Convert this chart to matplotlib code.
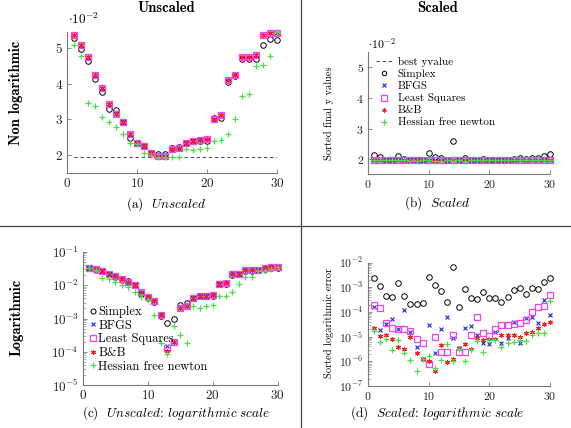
import numpy as np
import matplotlib.pyplot as plt
from matplotlib.lines import Line2D
from matplotlib.ticker import LogLocator, NullFormatter

plt.rcParams['font.family'] = 'cmr10'
plt.rcParams['mathtext.fontset'] = 'cm'
plt.rcParams['axes.formatter.use_mathtext'] = True

W, H = 571, 428

#################################################################
# data
#################################################################

runs = list(range(1, 31))
best_y = 1.95  # x 10^-2

# (a) unscaled final y values, x 10^-2
a_simplex = [5.26, 4.96, 4.63, 4.12, 3.77, 3.29, 3.26, 2.93, 2.48, 2.34,
             2.25, 2.07, 2.02, 2.04, 2.19, 2.23, 2.34, 2.40, 2.40, 2.40,
             3.04, 3.04, 4.04, 4.21, 4.68, 4.68, 4.69, 5.09, 5.24, 5.21]
a_bfgs = [5.37, 5.07, 4.73, 4.23, 3.88, 3.44, 3.15, 2.93, 2.58, 2.34,
          2.26, 2.07, 1.98, 1.98, 2.17, 2.20, 2.34, 2.40, 2.42, 2.44,
          3.00, 3.12, 4.11, 4.25, 4.75, 4.75, 4.81, 5.35, 5.40, 5.42]
a_lsq = [5.37, 5.07, 4.73, 4.23, 3.88, 3.44, 3.15, 2.93, 2.58, 2.34,
         2.26, 2.07, 1.97, 1.98, 2.17, 2.20, 2.34, 2.40, 2.42, 2.44,
         3.00, 3.12, 4.11, 4.25, 4.75, 4.75, 4.81, 5.35, 5.40, 5.42]
a_bb = [5.37, 5.07, 4.73, 4.23, 3.88, 3.44, 3.15, 2.93, 2.58, 2.34,
        2.26, 2.07, 1.97, 1.98, 2.17, 2.20, 2.34, 2.40, 2.42, 2.44,
        3.00, 3.12, 4.11, 4.25, 4.75, 4.75, 4.81, 5.35, 5.40, 5.42]
a_hfn = [5.09, 4.78, 3.46, 3.37, 3.06, 2.93, 2.79, 2.58, 2.34, 2.31,
         2.06, 1.99, 1.95, 1.95, 1.95, 1.95, 2.17, 2.14, 2.18, 2.20,
         2.40, 2.42, 2.58, 3.02, 3.65, 3.70, 4.50, 4.52, 4.77, 5.43]

# (b) scaled, sorted final y values, x 10^-2
b_simplex = [2.14, 2.07, 1.98, 1.98, 2.09, 2.00, 1.98, 1.98, 1.98, 2.20,
             2.07, 2.04, 1.98, 2.61, 1.96, 2.04, 1.99, 1.99, 2.02, 1.99,
             1.99, 1.98, 1.99, 2.02, 2.04, 2.01, 2.04, 2.04, 2.09, 2.16]
b_bfgs = [1.96, 1.96, 1.96, 1.96, 1.96, 1.96, 1.96, 1.96, 1.96, 1.96,
          1.96, 1.96, 1.96, 1.96, 1.96, 1.96, 1.96, 1.96, 1.96, 1.96,
          1.96, 1.96, 1.96, 1.96, 1.96, 1.96, 1.96, 1.96, 1.97, 1.96]
b_lsq = [1.97, 1.97, 1.96, 1.96, 1.96, 1.96, 1.96, 1.96, 1.96, 1.96,
         1.96, 1.96, 1.96, 1.96, 1.96, 1.96, 1.96, 1.96, 1.96, 1.96,
         1.96, 1.96, 1.96, 1.96, 1.96, 1.96, 1.96, 1.97, 1.97, 1.97]
b_bb = [1.96, 1.96, 1.96, 1.96, 1.96, 1.96, 1.96, 1.96, 1.96, 1.96,
        1.95, 1.96, 1.96, 1.96, 1.96, 1.96, 1.96, 1.96, 1.96, 1.96,
        1.96, 1.96, 1.96, 1.96, 1.96, 1.96, 1.96, 1.96, 1.96, 1.96]
b_hfn = [1.96, 1.96, 1.96, 1.96, 1.96, 1.96, 1.95, 1.95, 1.96, 1.96,
         1.95, 1.95, 1.96, 1.95, 1.96, 1.95, 1.96, 1.96, 1.96, 1.96,
         1.96, 1.96, 1.96, 1.96, 1.96, 1.96, 1.96, 1.96, 1.96, 1.96]

# (c) unscaled, logarithmic error
c_simplex = [3.2e-2, 2.9e-2, 2.6e-2, 2.1e-2, 1.8e-2, 1.4e-2, 1.35e-2, 1.0e-2, 5.6e-3, 4.2e-3,
             3.2e-3, 1.2e-3, 7.2e-4, 9.5e-4, 2.5e-3, 2.9e-3, 4.2e-3, 4.6e-3, 4.6e-3, 4.6e-3,
             1.1e-2, 1.1e-2, 2.0e-2, 2.2e-2, 2.7e-2, 2.7e-2, 2.75e-2, 3.1e-2, 3.3e-2, 3.25e-2]
c_bfgs = [3.3e-2, 3.0e-2, 2.6e-2, 2.2e-2, 1.9e-2, 1.5e-2, 1.26e-2, 1.0e-2, 6.3e-3, 4.5e-3,
          3.3e-3, 1.26e-3, 1.5e-4, 2.0e-4, 2.1e-3, 2.4e-3, 4.2e-3, 4.8e-3, 4.8e-3, 5.0e-3,
          1.05e-2, 1.18e-2, 2.1e-2, 2.2e-2, 2.8e-2, 2.8e-2, 2.9e-2, 3.3e-2, 3.4e-2, 3.4e-2]
c_lsq = [3.3e-2, 3.0e-2, 2.6e-2, 2.2e-2, 1.9e-2, 1.5e-2, 1.26e-2, 1.0e-2, 6.3e-3, 4.5e-3,
         3.3e-3, 1.26e-3, 1.35e-4, 2.0e-4, 2.1e-3, 2.4e-3, 4.2e-3, 4.8e-3, 4.8e-3, 5.0e-3,
         1.05e-2, 1.18e-2, 2.1e-2, 2.2e-2, 2.8e-2, 2.8e-2, 2.9e-2, 3.3e-2, 3.4e-2, 3.4e-2]
c_bb = [3.3e-2, 3.0e-2, 2.6e-2, 2.2e-2, 1.9e-2, 1.5e-2, 1.26e-2, 1.0e-2, 6.3e-3, 4.5e-3,
        3.3e-3, 1.26e-3, 1.1e-4, 2.0e-4, 2.1e-3, 2.4e-3, 4.2e-3, 4.8e-3, 4.8e-3, 5.0e-3,
        1.05e-2, 1.18e-2, 2.1e-2, 2.2e-2, 2.8e-2, 2.8e-2, 2.9e-2, 3.3e-2, 3.4e-2, 3.4e-2]
c_hfn = [3.2e-2, 2.8e-2, 1.6e-2, 1.5e-2, 1.2e-2, 1.0e-2, 8.8e-3, 6.3e-3, 4.5e-3, 3.6e-3,
         1.26e-3, 1.9e-4, 8.5e-5, 6.0e-4, 3.2e-4, 1.9e-4, 2.4e-3, 2.0e-3, 2.35e-3, 2.6e-3,
         4.7e-3, 4.8e-3, 6.3e-3, 1.05e-2, 1.7e-2, 1.7e-2, 2.7e-2, 2.7e-2, 3.0e-2, 3.4e-2]

# (d) scaled, sorted logarithmic error
d_simplex = [2.3e-3, 1.1e-3, 4.4e-4, 3.9e-4, 1.45e-3, 4.6e-4, 2.2e-4, 2.1e-4, 2.4e-4, 2.7e-3,
             1.2e-3, 7.3e-4, 2.6e-4, 7.0e-3, 1.65e-4, 8.6e-4, 3.8e-4, 3.4e-4, 6.3e-4, 3.8e-4,
             3.6e-4, 2.6e-4, 3.9e-4, 7.8e-4, 9.8e-4, 5.2e-4, 9.8e-4, 8.6e-4, 1.6e-3, 2.5e-3]
d_bfgs = [1.55e-4, 1.9e-5, 3.2e-5, 5.0e-5, 2.1e-5, 1.2e-4, 1.6e-5, 3.8e-6, 1.2e-6, 2.9e-5,
          2.2e-6, 2.0e-5, 6.4e-5, 9.0e-6, 3.5e-6, 2.2e-5, 2.6e-5, 1.2e-5, 5.7e-6, 4.9e-6,
          1.5e-5, 5.7e-6, 9.0e-6, 4.0e-5, 5.7e-6, 5.9e-5, 6.2e-5, 3.6e-5, 3.1e-4, 7.5e-5]
d_lsq = [1.9e-4, 1.4e-4, 3.7e-5, 2.3e-5, 2.0e-5, 2.0e-5, 1.7e-5, 8.1e-6, 5.4e-6, 7.8e-7,
         9.3e-6, 2.3e-6, 2.3e-6, 1.2e-5, 2.4e-6, 2.5e-6, 1.2e-5, 6.4e-5, 1.4e-5, 1.1e-5,
         2.0e-5, 3.0e-5, 2.9e-5, 3.2e-5, 3.5e-5, 4.6e-5, 9.7e-5, 1.6e-4, 1.8e-4, 4.9e-4]
d_bb = [2.2e-5, 1.1e-5, 1.2e-5, 8.1e-6, 3.9e-6, 3.1e-6, 9.3e-6, 2.2e-6, 1.2e-6, 1.07e-6,
        4.1e-7, 4.6e-6, 9.8e-7, 1.2e-6, 3.6e-6, 4.9e-6, 3.1e-6, 9.1e-6, 7.3e-6, 7.7e-6,
        7.7e-6, 1.2e-5, 1.2e-5, 1.2e-5, 9.3e-6, 1.4e-5, 1.6e-5, 2.3e-5, 3.2e-5, 3.8e-5]
d_hfn = [1.7e-5, 5.9e-6, 8.1e-6, 2.9e-6, 7.3e-6, 2.1e-6, 1.1e-6, 4.1e-7, 1.3e-6, 1.6e-6,
         5.5e-7, 1.1e-6, 4.9e-6, 1.0e-6, 3.1e-6, 1.0e-6, 2.9e-6, 6.9e-6, 2.4e-6, 7.3e-6,
         7.3e-6, 3.7e-6, 5.7e-6, 6.3e-6, 7.3e-6, 6.9e-6, 1.2e-5, 1.4e-5, 1.4e-5, 2.9e-4]

labels = ["Simplex", "BFGS", "Least Squares", "B&B", "Hessian free newton"]

#################################################################
# helpers
#################################################################

def rect(l, t, r, b):
	# pixel box (from top-left) -> figure fraction
	return [l/W, 1-b/H, (r-l)/W, (b-t)/H]

def ftext(x, y, s, **kw):
	fig.text(x/W, 1-y/H, s, **kw)

styles = [
	dict(marker='o', mfc='none', mec='black', ms=4.0, mew=0.7),
	dict(marker='x', color='#2222dd', ms=2.8, mew=0.8),
	dict(marker='s', mfc='none', mec='#f040f0', ms=4.6, mew=0.9),
	dict(marker=(6, 2, 0), color='#ee2222', ms=3.6, mew=0.8),
	dict(marker='+', color='#44e044', ms=4.6, mew=0.9),
]

def style(ax, fs):
	for s in ['top', 'right']:
		ax.spines[s].set_visible(False)
	for s in ['left', 'bottom']:
		ax.spines[s].set_color('#7a7a7a')
		ax.spines[s].set_linewidth(0.8)
	ax.tick_params(direction='in', length=3, width=0.6, color='#7a7a7a',
				   labelsize=fs, pad=3, labelcolor='#222222')
	ax.tick_params(which='minor', direction='in', length=1.8, width=0.4, color='#7a7a7a')
	ax.set_xlim(0, 30)
	ax.set_xticks([0, 10, 20, 30])

def scatter_all(ax, series):
	hs = []
	for ys, st in zip(series, styles):
		h, = ax.plot(runs, ys, linestyle='none', clip_on=False, **st)
		hs.append(h)
	return hs

#################################################################
# figure
#################################################################

fig = plt.figure(figsize=(W/100, H/100), dpi=100)

# (a)
ax_a = fig.add_axes(rect(67, 32, 277, 173))
ax_a.plot([1, 30], [best_y, best_y], '--', color='#555555', lw=0.8, dashes=(3, 2.5))
scatter_all(ax_a, [a_simplex, a_bfgs, a_lsq, a_bb, a_hfn])
style(ax_a, 9.5)
ax_a.set_ylim(1.50, 5.44)
ax_a.set_yticks([2, 3, 4, 5])
ftext(68, 19, r'$\cdot 10^{-2}$', fontsize=9.5, va='center', ha='left')

# (b)
ax_b = fig.add_axes(rect(368, 52, 550, 174))
hb, = ax_b.plot([1, 30], [best_y, best_y], '--', color='#555555', lw=0.8, dashes=(3, 2.5))
hs = scatter_all(ax_b, [b_simplex, b_bfgs, b_lsq, b_bb, b_hfn])
style(ax_b, 8.5)
ax_b.set_ylim(1.52, 5.49)
ax_b.set_yticks([2, 3, 4, 5])
ftext(368, 44, r'$\cdot 10^{-2}$', fontsize=8.5, va='center', ha='left')
ax_b.legend([hb] + hs, ["best yvalue"] + labels, loc='upper left',
			bbox_to_anchor=(376/W, 1-57/H), bbox_transform=fig.transFigure,
			frameon=False, fontsize=8, handlelength=1.5, handletextpad=0.45,
			labelspacing=0.2, borderpad=0, borderaxespad=0, markerscale=0.8)

# (c)
ax_c = fig.add_axes(rect(83, 251.7, 277.7, 385.3))
hs = scatter_all(ax_c, [c_simplex, c_bfgs, c_lsq, c_bb, c_hfn])
style(ax_c, 9.5)
ax_c.set_yscale('log')
ax_c.set_ylim(1e-5, 1e-1)
ax_c.yaxis.set_major_locator(LogLocator(base=10, numticks=10))
ax_c.yaxis.set_minor_locator(LogLocator(base=10, subs=np.arange(2, 10), numticks=20))
ax_c.yaxis.set_minor_formatter(NullFormatter())
ax_c.legend(hs, labels, loc='upper left',
			bbox_to_anchor=(90/W, 1-306/H), bbox_transform=fig.transFigure,
			frameon=False, fontsize=9, handlelength=0.5, handletextpad=0.15,
			labelspacing=0.12, borderpad=0, borderaxespad=0, markerscale=0.9)

# (d)
ax_d = fig.add_axes(rect(368, 262.7, 550, 386))
scatter_all(ax_d, [d_simplex, d_bfgs, d_lsq, d_bb, d_hfn])
style(ax_d, 8.5)
ax_d.set_yscale('log')
ax_d.set_ylim(1e-7, 1e-2)
ax_d.yaxis.set_major_locator(LogLocator(base=10, numticks=10))
ax_d.yaxis.set_minor_locator(LogLocator(base=10, subs=np.arange(2, 10), numticks=20))
ax_d.yaxis.set_minor_formatter(NullFormatter())

# y labels of the scaled column
ftext(329, 113, "Sorted final y values", rotation=90, fontsize=7.5, ha='center', va='center')
ftext(329, 323, "Sorted logarithmic error", rotation=90, fontsize=7.5, ha='center', va='center')

# column titles and row labels
ftext(166, 8, "Unscaled", fontfamily='cmb10', fontsize=10.5, ha='center', va='center')
ftext(437, 8, "Scaled", fontfamily='cmb10', fontsize=10.5, ha='center', va='center')
ftext(16, 93, "Non logarithmic", fontfamily='cmb10', fontsize=10.5, rotation=90, ha='center', va='center')
ftext(16, 317, "Logarithmic", fontfamily='cmb10', fontsize=10.5, rotation=90, ha='center', va='center')

# captions
ftext(166, 204, r'(a)  $\mathit{Unscaled}$', fontsize=9.5, ha='center', va='center')
ftext(437, 203, r'(b)  $\mathit{Scaled}$', fontsize=9.5, ha='center', va='center')
ftext(176, 413, r'(c)  $\mathit{Unscaled}$: $\mathit{logarithmic\ scale}$', fontsize=9.5, ha='center', va='center')
ftext(437, 413, r'(d)  $\mathit{Scaled}$: $\mathit{logarithmic\ scale}$', fontsize=9.5, ha='center', va='center')

# divider lines between the panels
fig.add_artist(Line2D([0, 1], [1-226/H, 1-226/H], color='#444444', lw=0.9))
fig.add_artist(Line2D([301/W, 301/W], [0, 1], color='#444444', lw=0.9))

fig.savefig("out.png", dpi=100)
